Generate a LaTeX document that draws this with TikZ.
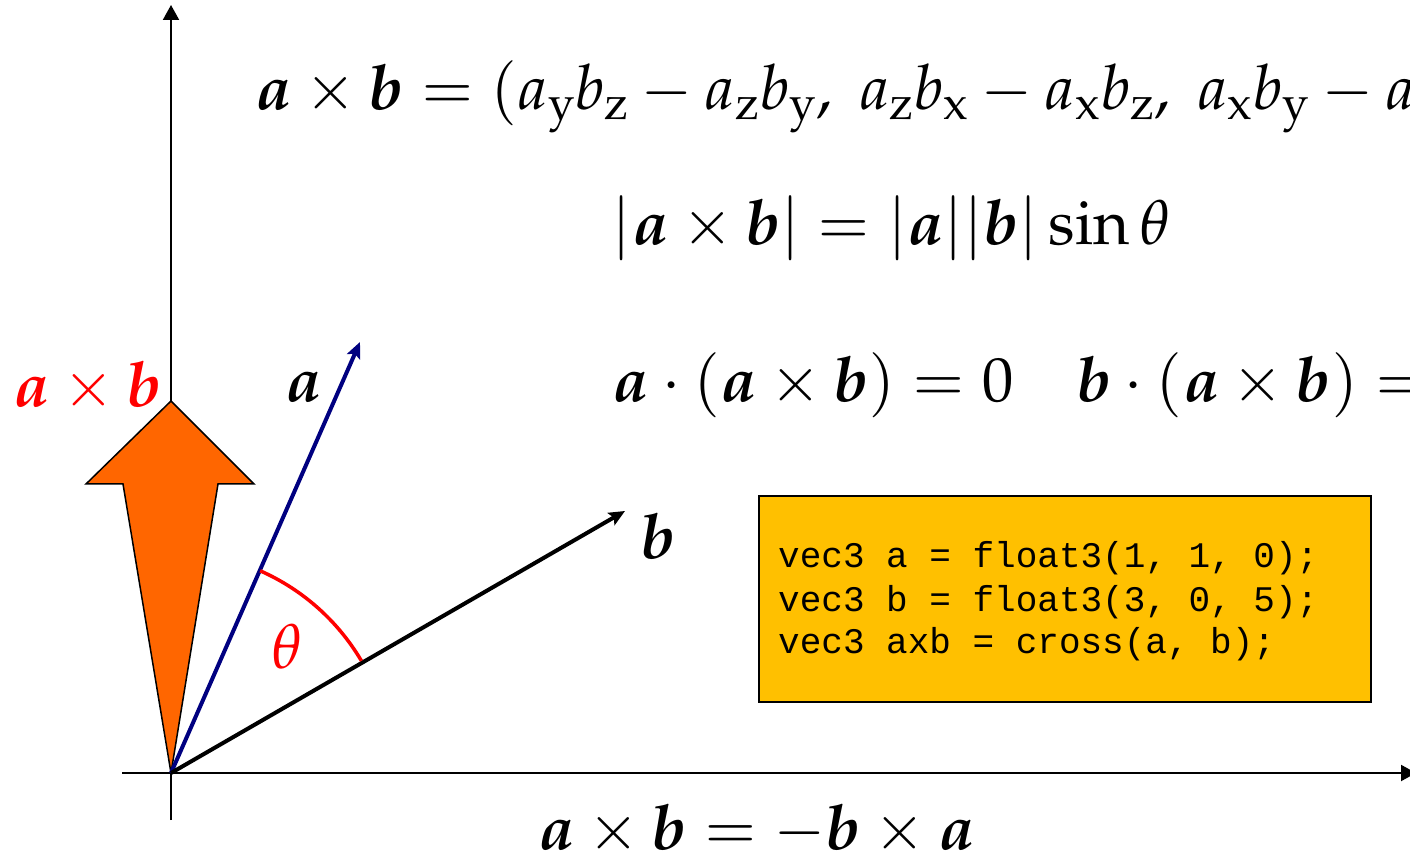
\documentclass[tikz,border=0pt]{standalone}
\usepackage{amsmath}
\usepackage{mathpazo}
\usepackage{bm}
\usepackage[no-math]{fontspec}
\newfontfamily\codefont{Liberation Mono}
\usetikzlibrary{arrows.meta,calc}
\definecolor{axorange}{RGB}{255,102,0}
\definecolor{codebg}{RGB}{255,192,0}
\definecolor{vecnavy}{RGB}{0,0,128}
\tikzset{
  axis/.style={line width=2pt,-{Triangle[width=16pt,length=15pt]}},
  vec/.style={line width=4pt,-{Stealth[width=14pt,length=16pt,inset=3pt]}},
  formula/.style={anchor=base west,inner sep=0pt,font=\fontsize{62.5}{75}\selectfont},
  codeline/.style={anchor=base west,inner sep=0pt,font=\codefont\fontsize{36}{42}\selectfont},
  codebox/.style={draw=black,line width=2pt,fill=codebg,anchor=south west,inner sep=0pt,minimum width=612pt,minimum height=206pt}
}
\begin{document}
\begin{tikzpicture}[x=1pt,y=1pt]
\useasboundingbox (0,0) rectangle (1410,852);
\coordinate (O) at (171,79);
\coordinate (ybot) at (171,32);
\coordinate (ytop) at (171,847);
\coordinate (xleft) at (122,79);
\coordinate (xright) at (1416,79);
\coordinate (atip) at (360,510);
\coordinate (btip) at (625,341);
% axes
\draw[axis] (ybot) -- (ytop);
\draw[axis] (xleft) -- (xright);
% orange cross-product arrow
\filldraw[fill=axorange,draw=black,line width=1.5pt,line join=miter]
  (O) -- (123,368) -- (86,368) -- (171,451) -- (254,368) -- (218,368) -- cycle;
% vectors
\draw[vec,vecnavy] (O) -- (atip);
\draw[vec,black] (O) -- (btip);
% angle arc
\draw[red,line width=3.5pt] ($(O)+(66.2:221)$) arc[start angle=66.2,end angle=30.5,radius=221];
% labels
\node[formula,text=red] (theta) at (272,184) {$\theta$};
\node[formula] (alab) at (285,450) {$\bm{a}$};
\node[formula] (blab) at (641,294) {$\bm{b}$};
\node[formula,text=red] (axblab) at (13,445) {$\bm{a}\times\bm{b}$};
% formulas
\node[formula] (f1) at (255,742) {$\bm{a}\times\bm{b}=(a_{\mathrm{y}}b_{\mathrm{z}}-a_{\mathrm{z}}b_{\mathrm{y}},\mkern5mu a_{\mathrm{z}}b_{\mathrm{x}}-a_{\mathrm{x}}b_{\mathrm{z}},\mkern5mu a_{\mathrm{x}}b_{\mathrm{y}}-a_{\mathrm{y}}b_{\mathrm{x}})$};
\node[formula] (f2) at (612,607) {$|\bm{a}\times\bm{b}|=|\bm{a}||\bm{b}|\sin\theta$};
\node[formula] (f3) at (612,450) {$\bm{a}\cdot(\bm{a}\times\bm{b})=0\quad\bm{b}\cdot(\bm{a}\times\bm{b})=0$};
\node[formula] (f4) at (538,3) {$\bm{a}\times\bm{b}=-\bm{b}\times\bm{a}$};
% code box
\node[codebox] (code) at (758,149) {};
\node[codeline] (c1) at (778,284) {vec3 a = float3(1, 1, 0);};
\node[codeline] (c2) at (778,241) {vec3 b = float3(3, 0, 5);};
\node[codeline] (c3) at (778,199) {vec3 axb = cross(a, b);};
\end{tikzpicture}
\end{document}
